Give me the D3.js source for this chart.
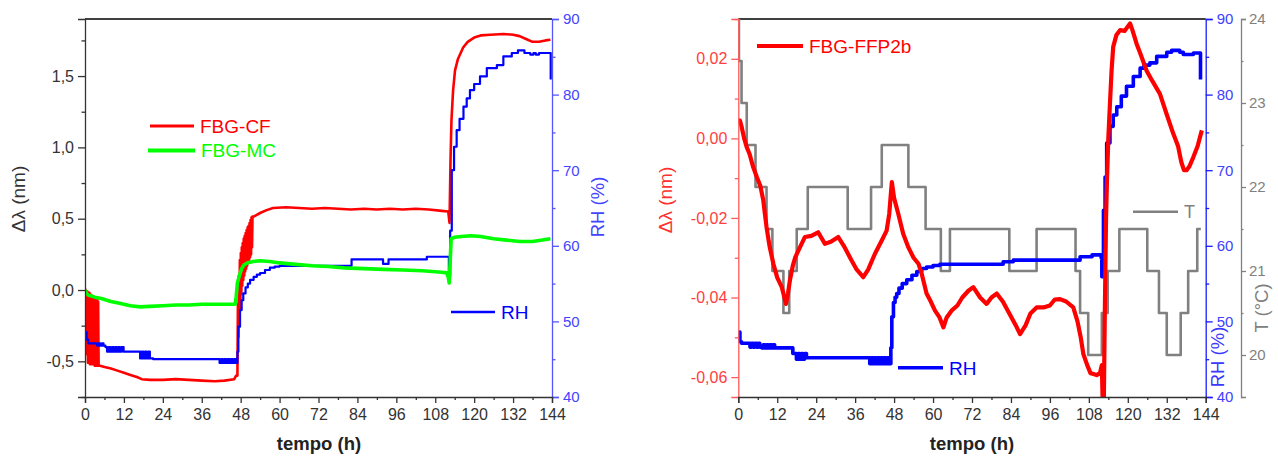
<!DOCTYPE html>
<html>
<head>
<meta charset="utf-8">
<script src="https://cdn.jsdelivr.net/npm/d3@7"></script>
<style>
  body { margin: 0; background: #fff; }
  svg { display: block; }
  text { font-family: "Liberation Sans", Arial, sans-serif; }
</style>
</head>
<body>
<svg id="chart" width="1278" height="457"></svg>
<script>
// ---------- data: [tempo (h), value] ----------
// Left panel: wavelength shift of FBG-CF and FBG-MC (nm) and relative humidity (%)
const cfShift = [
  [0, 0.01], [0.3, -0.03], [0.6, -0.45], [0.75, -0.01], [0.9, -0.51], [1.05, -0.02], [1.2, -0.51], [1.35, -0.02],
  [1.5, -0.52], [1.65, -0.03], [1.8, -0.52], [1.95, -0.04], [2.1, -0.52], [2.25, -0.04], [2.4, -0.52], [2.55, -0.05],
  [2.7, -0.52], [2.85, -0.05], [3.0, -0.53], [3.15, -0.06], [3.3, -0.53], [3.45, -0.06], [3.6, -0.53], [3.75, -0.07],
  [3.9, -0.53], [4.05, -0.08], [4.2, -0.53], [4.4, -0.53], [6, -0.54], [8, -0.55], [10, -0.565], [12, -0.58],
  [14, -0.595], [16, -0.61], [17.5, -0.625], [20, -0.63], [24, -0.63], [28, -0.625], [32, -0.63], [36, -0.635],
  [40, -0.64], [43, -0.635], [46, -0.625], [46.6, -0.6], [47.0, -0.6], [47.15, -0.1], [47.3, -0.33], [47.45, 0.1],
  [47.6, -0.22], [47.75, 0.21], [47.9, -0.13], [48.05, 0.26], [48.2, -0.03], [48.35, 0.3], [48.5, 0.03], [48.65, 0.33],
  [48.8, 0.07], [48.95, 0.36], [49.1, 0.1], [49.25, 0.38], [49.4, 0.13], [49.55, 0.4], [49.7, 0.15], [49.85, 0.42],
  [50.0, 0.17], [50.15, 0.44], [50.3, 0.19], [50.45, 0.45], [50.6, 0.21], [50.75, 0.47], [50.9, 0.23], [51.05, 0.49],
  [51.2, 0.25], [51.35, 0.51], [51.5, 0.3], [51.65, 0.515], [52, 0.515], [54, 0.54], [56, 0.56], [58, 0.575],
  [62, 0.58], [66, 0.575], [70, 0.57], [74, 0.575], [78, 0.57], [82, 0.565], [86, 0.57], [90, 0.565],
  [94, 0.57], [98, 0.565], [102, 0.57], [106, 0.565], [110, 0.555], [112, 0.55], [112.4, 0.47], [112.7, 0.9],
  [113, 1.19], [113.5, 1.4], [114.1, 1.54], [115, 1.62], [116.6, 1.70], [118, 1.74], [120, 1.77], [122, 1.785],
  [125, 1.79], [129, 1.795], [132, 1.79], [134, 1.78], [136, 1.76], [138, 1.74], [140, 1.74], [142, 1.75],
  [143.5, 1.755]
];
const mcShift = [
  [0, 0.0], [0.5, -0.025], [1, -0.035], [3, -0.05], [5, -0.06], [8, -0.08], [11, -0.095], [14, -0.11],
  [17, -0.118], [20, -0.115], [24, -0.11], [28, -0.105], [32, -0.105], [36, -0.1], [40, -0.1], [44, -0.1],
  [46.3, -0.1], [46.6, -0.05], [47, 0.05], [47.6, 0.1], [48.3, 0.15], [49, 0.175], [50, 0.19], [51.8, 0.2],
  [54, 0.205], [57, 0.2], [60, 0.19], [65, 0.18], [70, 0.17], [75, 0.165], [80, 0.155], [86, 0.15],
  [92, 0.145], [98, 0.14], [104, 0.135], [110, 0.125], [111.5, 0.12], [112, 0.09], [112.3, 0.05], [112.6, 0.2],
  [112.9, 0.36], [114, 0.37], [116, 0.375], [119, 0.38], [122, 0.375], [126, 0.36], [130, 0.35], [134, 0.34],
  [138, 0.34], [141, 0.35], [143.5, 0.36]
];
const rhLeft = [
  [0, 48.6], [0.5, 47.6], [1, 47.1], [3.7, 46.8], [4.2, 47.1], [4.7, 46.8], [5.2, 47.1], [5.7, 46.8],
  [6.3, 46.6], [6.8, 46.0], [7.3, 46.6], [7.8, 46.0], [8.3, 46.6], [8.8, 46.0], [9.3, 46.6], [9.8, 46.0],
  [10.3, 46.6], [10.8, 46.0], [11.3, 46.6], [11.9, 46.0], [17, 45.1], [17.5, 46.0], [18, 45.1], [18.5, 46.0],
  [19, 45.1], [19.5, 46.0], [20, 45.1], [21, 45.0], [41.5, 44.5], [42, 45.0], [42.5, 44.5], [43, 45.0],
  [43.5, 44.5], [44, 45.0], [44.5, 44.5], [45, 45.0], [45.5, 44.5], [46, 45.0], [46.5, 44.5], [47, 46],
  [47.3, 49.3], [47.8, 51.5], [48.3, 52.8], [48.8, 53.7], [49.5, 54.5], [50.2, 55.0], [50.9, 55.5], [52, 55.9],
  [53, 56.2], [54, 56.4], [55.5, 56.8], [57, 57.1], [58.5, 57.25], [60, 57.35], [82.2, 58.2], [91.9, 57.6],
  [93.6, 58.2], [105.4, 58.55], [112.2, 56], [112.6, 62], [113.1, 70], [113.8, 73.1], [114.6, 75.3], [115.5, 76.8],
  [116.7, 78.4], [117.7, 79.5], [118.7, 80.6], [120, 81.4], [121.8, 82.4], [123.9, 83.5], [127, 83.9], [129, 85.05],
  [131.6, 85.5], [133.5, 85.85], [135.5, 85.5], [137.3, 85.3], [138.3, 85.5], [139, 85.3], [140, 85.5], [143.6, 82]
];

// Right panel: FBG-FFP2b shift (nm), relative humidity (%) and temperature (°C)
const ffpShift = [
  [0, 0.0038], [0.5, 0.0045], [1.0, 0.003], [1.8, 0.0], [2.6, -0.0022], [3.5, -0.004], [4.5, -0.007], [5.7, -0.0097],
  [6.8, -0.012], [7.7, -0.0156], [8.2, -0.019], [8.7, -0.0223], [9.6, -0.027], [10.8, -0.0315], [12, -0.035], [13.4, -0.0374],
  [14.2, -0.040], [14.7, -0.0416], [15.3, -0.039], [15.9, -0.0357], [16.8, -0.032], [17.5, -0.030], [18.5, -0.0282], [20.5, -0.0248],
  [22.5, -0.0245], [24.6, -0.0236], [26.7, -0.0265], [28.5, -0.026], [30.8, -0.0248], [32.5, -0.027], [34.9, -0.0307], [36.5, -0.033],
  [38.5, -0.0349], [40, -0.033], [42.1, -0.029], [44, -0.026], [45.7, -0.0232], [46.5, -0.019], [47.3, -0.011], [48.0, -0.015],
  [49.3, -0.019], [50.8, -0.024], [52.4, -0.0274], [54, -0.030], [55.5, -0.0315], [56.5, -0.034], [58, -0.039], [59.3, -0.041],
  [60.6, -0.0433], [62, -0.045], [63.2, -0.0475], [64.2, -0.045], [65.7, -0.0433], [67.5, -0.042], [69, -0.040], [70.9, -0.0383],
  [72.4, -0.0374], [74.5, -0.040], [76.5, -0.0416], [78, -0.040], [79.6, -0.039], [81.5, -0.041], [83.5, -0.044], [85.5, -0.047],
  [86.8, -0.0492], [88.5, -0.047], [90, -0.044], [91.9, -0.0425], [94, -0.0425], [96, -0.042], [97.5, -0.0405], [99.1, -0.0404],
  [101, -0.041], [103.2, -0.0425], [104.5, -0.046], [105.5, -0.050], [106.3, -0.0542], [107.5, -0.057], [108.5, -0.059], [109.4, -0.0592],
  [110.4, -0.0595], [111.4, -0.059], [112.0, -0.057], [112.5, -0.075], [112.9, -0.045], [113.3, -0.02], [113.6, -0.01], [114, 0.0],
  [114.5, 0.0087], [115, 0.017], [115.5, 0.023], [116.5, 0.026], [117.6, 0.0272], [119, 0.027], [120.7, 0.0289], [121.5, 0.027],
  [122.7, 0.0238], [124, 0.021], [125.8, 0.017], [127.5, 0.0145], [129.9, 0.0112], [132, 0.006], [134, 0.0012], [135.5, -0.002],
  [136.5, -0.006], [137.3, -0.008], [138.1, -0.008], [139, -0.007], [140.2, -0.0047], [141.5, -0.002], [142.8, 0.002]
];
const rhRight = [
  [0, 48.6], [0.5, 47.3], [1, 47.1], [3.6, 46.6], [4.1, 47.1], [4.6, 46.6], [5.1, 47.1], [5.6, 46.6],
  [6.1, 47.1], [6.6, 46.6], [7.2, 46.5], [7.7, 46.9], [8.2, 46.5], [8.7, 46.9], [9.2, 46.5], [9.7, 46.9],
  [10.2, 46.5], [10.7, 46.9], [11.2, 46.5], [16.8, 45.75], [17.9, 45.0], [18.4, 45.75], [18.9, 45.0], [19.4, 45.75],
  [19.9, 45.0], [20.4, 45.75], [21, 45.2], [40.5, 44.4], [41, 45.2], [41.5, 44.4], [42, 45.2], [42.5, 44.4],
  [43, 45.2], [43.5, 44.4], [44, 45.2], [44.5, 44.4], [45, 45.2], [45.5, 44.4], [46, 45.2], [46.5, 44.4],
  [47, 46.5], [47.3, 50.6], [47.8, 52.5], [48.3, 53.2], [48.8, 53.7], [49.5, 54.4], [50.5, 55.0], [51.9, 55.5],
  [53.5, 56.1], [55, 56.6], [56.5, 57.0], [58, 57.2], [60, 57.4], [62.1, 57.55], [81.6, 57.9], [84.7, 58.1],
  [105.3, 58.55], [109, 58.8], [111.8, 58.4], [112, 55.9], [112.5, 64.7], [113, 69.1], [113.5, 73.6], [114.5, 75.8],
  [115.5, 77.3], [116.6, 78.4], [118, 79.8], [119.6, 81.1], [121.7, 82.4], [123.8, 83.5], [125, 83.9], [126.8, 84.2],
  [128.9, 85.05], [132, 85.6], [133.5, 85.85], [136, 85.6], [137.1, 85.3], [140.2, 85.5], [142.4, 82]
];
const tempRight = [
  [0, 24], [0.2, 23.5], [1.0, 23.0], [2.6, 22.5], [5.3, 22.0], [8.7, 21.5], [10.5, 21.0], [13.9, 20.5],
  [15.7, 21.0], [18.0, 21.5], [21.4, 22.0], [33.7, 21.5], [40.9, 22.0], [44.2, 22.5], [52.4, 22.0], [57.7, 21.5],
  [62.4, 21.0], [65.2, 21.5], [83.5, 21.0], [91.9, 21.5], [103.9, 21.0], [105.3, 20.5], [107.8, 20.0], [112.0, 20.5],
  [113.8, 21.0], [117.4, 21.5], [126.0, 21.0], [129.6, 20.5], [132.0, 20.0], [136.3, 20.5], [138.6, 21.0], [141.4, 21.5],
  [142.5, 21.5]
];

// ---------- ticks ----------
const hourTicks = [0, 12, 24, 36, 48, 60, 72, 84, 96, 108, 120, 132, 144];
const hourMinor = d3.range(6, 144, 12);
const cfTicks = [-0.5, 0.0, 0.5, 1.0, 1.5];
const cfMinor = [-0.75, -0.25, 0.25, 0.75, 1.25, 1.75];
const rhTicks = [40, 50, 60, 70, 80, 90];
const rhMinor = [45, 55, 65, 75, 85];
const ffpTicks = [-0.06, -0.04, -0.02, 0.0, 0.02];
const ffpMinor = [-0.05, -0.03, -0.01, 0.01, 0.03];
const tempTicks = [20, 21, 22, 23, 24];
const tempMinor = [19.5, 20.5, 21.5, 22.5, 23.5];

// decimal comma, hyphen minus
const loc = d3.formatLocale({ decimal: ",", thousands: ".", grouping: [3], currency: ["", ""], minus: "-" });
const f1 = loc.format(".1f"), f2 = loc.format(".2f");

const svg = d3.select("#chart");
const plotTop = 19, plotBottom = 397;

function clip(id, x0, x1) {
  svg.append("clipPath").attr("id", id).append("rect")
    .attr("x", x0).attr("y", plotTop).attr("width", x1 - x0).attr("height", plotBottom - plotTop);
}

function styleAxis(g, gen, color, width) {
  g.call(gen);
  g.select(".domain").attr("stroke", color).attr("stroke-width", width);
  g.selectAll(".tick line").attr("stroke", color).attr("stroke-width", width);
  return g;
}

function drawAxisSet(x, y, opts) {
  const { pos, ticks, minor, fmt, color, labelColor, size = 7, pad = 4, fontSize = 16, width = 1.3 } = opts;
  const mk = { left: d3.axisLeft, right: d3.axisRight, bottom: d3.axisBottom }[pos];
  const scale = pos === "bottom" ? x : y;
  const shift = pos === "bottom" ? `translate(0,${plotBottom})` : `translate(${opts.at},0)`;
  const g = svg.append("g").attr("transform", shift);
  styleAxis(g, mk(scale).tickValues(ticks).tickFormat(fmt).tickSize(size).tickPadding(pad), color, width);
  g.selectAll(".tick text").attr("fill", labelColor).attr("font-size", fontSize)
    .attr("font-family", '"Liberation Sans", Arial, sans-serif');
  const gm = svg.append("g").attr("transform", shift);
  const dom = scale.domain();
  styleAxis(gm, mk(scale).tickValues(minor.filter(v => v >= Math.min(...dom) && v <= Math.max(...dom)))
    .tickFormat("").tickSize(size / 2), color, width);
  gm.select(".domain").remove();
  return g;
}

function drawLine(x, y, data, color, w, stepped, clipId) {
  const gen = d3.line().x(d => x(d[0])).y(d => y(d[1]));
  if (stepped) gen.curve(d3.curveStepAfter);
  svg.append("path").datum(data).attr("d", gen).attr("fill", "none")
    .attr("stroke", color).attr("stroke-width", w).attr("stroke-linejoin", "round")
    .attr("clip-path", `url(#${clipId})`);
}

function legend(x0, x1, y, color, w, label, fs) {
  svg.append("line").attr("x1", x0).attr("x2", x1).attr("y1", y).attr("y2", y)
    .attr("stroke", color).attr("stroke-width", w);
  svg.append("text").attr("x", x1 + 6).attr("y", y + fs * 0.36).attr("fill", color)
    .attr("font-size", fs).text(label);
}

function vTitle(x, y, label, color, fs, weight) {
  svg.append("text").attr("transform", `translate(${x},${y}) rotate(-90)`).attr("text-anchor", "middle")
    .attr("fill", color).attr("font-size", fs).attr("font-weight", weight || "normal").text(label);
}

// ================= left panel =================
const xL = d3.scaleLinear([0, 144], [85, 552]);
const yL = d3.scaleLinear([-0.75, 1.9], [plotBottom, plotTop]);
const rL = d3.scaleLinear([40, 90], [plotBottom, plotTop]);
clip("clipL", 85, 552);

svg.append("line").attr("x1", 85).attr("x2", 552).attr("y1", plotTop).attr("y2", plotTop)
  .attr("stroke", "#000").attr("stroke-width", 1.3);

drawLine(xL, yL, cfShift, "#ff0000", 2.6, false, "clipL");
drawLine(xL, rL, rhLeft, "#0000ff", 2.2, true, "clipL");
drawLine(xL, yL, mcShift, "#00ff00", 3.6, false, "clipL");

drawAxisSet(xL, yL, { pos: "left", at: 85, ticks: cfTicks, minor: cfMinor, fmt: f1, color: "#333", labelColor: "#333" });
drawAxisSet(xL, rL, { pos: "right", at: 552, ticks: rhTicks, minor: rhMinor, fmt: d3.format("d"), color: "#5555ff", labelColor: "#4444ff", fontSize: 15 });
drawAxisSet(xL, yL, { pos: "bottom", ticks: hourTicks, minor: hourMinor, fmt: d3.format("d"), color: "#333", labelColor: "#333", size: 6, pad: 6 });

legend(150, 194, 126, "#ff0000", 3, "FBG-CF", 19);
legend(148, 195, 150.5, "#00ff00", 4, "FBG-MC", 19);
legend(451, 495, 312, "#0000ff", 2.5, "RH", 19);

svg.append("text").attr("x", 319).attr("y", 450).attr("text-anchor", "middle")
  .attr("font-size", 18.5).attr("font-weight", "bold").attr("fill", "#222").text("tempo (h)");
vTitle(25, 199, "Δλ (nm)", "#333", 19);
vTitle(604, 207, "RH (%)", "#4444ff", 18.5);

// ================= right panel =================
const xR = d3.scaleLinear([0, 144], [738.3, 1205.7]);
const yR = d3.scaleLinear([-0.065, 0.03], [plotBottom, plotTop]);
const rR = d3.scaleLinear([40, 90], [plotBottom, plotTop]);
const tR = d3.scaleLinear([19.5, 24], [plotBottom, plotTop]);
clip("clipR", 738.3, 1205.7);

svg.append("line").attr("x1", 738.3).attr("x2", 1205.7).attr("y1", plotTop).attr("y2", plotTop)
  .attr("stroke", "#000").attr("stroke-width", 1.3);

drawLine(xR, tR, tempRight, "#808080", 2.6, true, "clipR");
drawLine(xR, rR, rhRight, "#0000ff", 3.6, true, "clipR");
drawLine(xR, yR, ffpShift, "#ff0000", 4.2, false, "clipR");

drawAxisSet(xR, yR, { pos: "left", at: 738.3, ticks: ffpTicks, minor: ffpMinor, fmt: f2, color: "#ff5a5a", labelColor: "#ff4040" });
drawAxisSet(xR, rR, { pos: "right", at: 1205.7, ticks: rhTicks, minor: rhMinor, fmt: d3.format("d"), color: "#1a1aff", labelColor: "#4040ff", fontSize: 15 });
drawAxisSet(xR, tR, { pos: "right", at: 1241, ticks: tempTicks, minor: tempMinor, fmt: d3.format("d"), color: "#808080", labelColor: "#808080", size: 5, pad: 3, fontSize: 15 });
drawAxisSet(xR, yR, { pos: "bottom", ticks: hourTicks, minor: hourMinor, fmt: d3.format("d"), color: "#333", labelColor: "#333", size: 6, pad: 6 });

legend(757, 803, 46, "#ff0000", 4, "FBG-FFP2b", 19);
legend(898, 943, 367.7, "#0000ff", 3.5, "RH", 19);
legend(1133, 1178, 211.7, "#808080", 2.5, "T", 18);

svg.append("text").attr("x", 972).attr("y", 450).attr("text-anchor", "middle")
  .attr("font-size", 18.5).attr("font-weight", "bold").attr("fill", "#222").text("tempo (h)");
vTitle(672, 200, "Δλ (nm)", "#ff3030", 19);
vTitle(1224, 357, "RH (%)", "#3a3aff", 18.5);
vTitle(1268, 308, "T (°C)", "#808080", 18.5);
</script>
</body>
</html>
